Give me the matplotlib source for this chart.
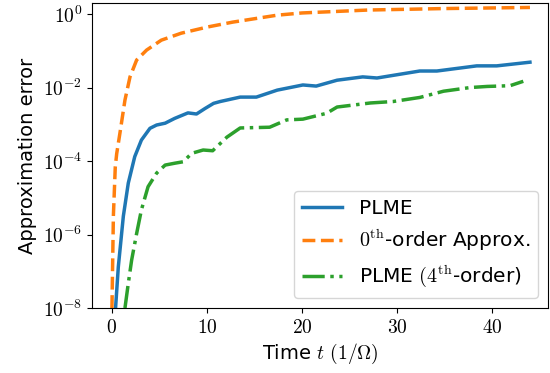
import numpy as np
from matplotlib import pyplot as plt

plt.rcParams['mathtext.fontset'] = 'cm'
plt.rcParams['font.size'] = 14

# values, stored as log10 of the error
t_zeroth = [0.0, 0.15, 0.35, 0.5, 0.84, 1.37, 1.9, 2.6, 3.65, 5.2, 7.3, 10.1, 12.7,
            17.4, 20.0, 27.0, 35.0, 44.0]
log_err_zeroth = [-8.0, -5.5, -4.16, -3.8, -3.24, -2.34, -1.71, -1.25, -0.98, -0.71,
                  -0.52, -0.35, -0.22, -0.03, 0.03, 0.11, 0.15, 0.18]

t_plme = [0.38, 0.67, 1.2, 1.72, 2.4, 3.1, 4.0, 4.7, 5.6, 6.6, 8.0, 8.9, 9.8, 10.7,
          11.4, 13.5, 15.2, 17.4, 20.1, 21.5, 23.7, 26.4, 27.9, 32.4, 34.2, 38.4,
          40.5, 44.0]
log_err_plme = [-8.0, -6.88, -5.5, -4.6, -3.88, -3.43, -3.11, -3.02, -2.97, -2.84,
                -2.69, -2.72, -2.57, -2.43, -2.38, -2.26, -2.26, -2.07, -1.93, -1.96,
                -1.8, -1.71, -1.74, -1.55, -1.55, -1.41, -1.41, -1.31]

t_fourth = [1.37, 1.72, 2.07, 2.6, 3.1, 3.8, 4.7, 5.6, 6.6, 7.5, 8.4, 9.6, 10.6, 12.1,
            13.5, 16.6, 18.4, 20.1, 22.6, 23.7, 27.2, 29.6, 32.4, 34.9, 37.7, 39.5,
            41.9, 43.3]
log_err_fourth = [-8.0, -7.33, -6.7, -5.97, -5.33, -4.7, -4.33, -4.11, -4.06, -4.02,
                  -3.79, -3.7, -3.72, -3.35, -3.1, -3.08, -2.88, -2.86, -2.7, -2.53,
                  -2.42, -2.38, -2.27, -2.1, -2.0, -1.97, -1.95, -1.83]

y_ticks = [-8, -6, -4, -2, 0]
x_ticks = [0, 10, 20, 30, 40]

fig = plt.figure(figsize=(5.5, 3.73), dpi=100)
ax = fig.add_axes([92 / 550, 65 / 373, 456 / 550, 305 / 373])

ax.semilogy(t_plme, 10.0 ** np.array(log_err_plme), color='tab:blue', lw=2.5,
            label='PLME')
ax.semilogy(t_zeroth, 10.0 ** np.array(log_err_zeroth), color='tab:orange', lw=2.5,
            ls='--', label=r'$0^{\mathrm{th}}$-order Approx.')
ax.semilogy(t_fourth, 10.0 ** np.array(log_err_fourth), color='tab:green', lw=2.5,
            ls='-.', label=r'PLME $(4^{\mathrm{th}}$-order)')

ax.set_xlim(-2.1, 45.9)
ax.set_ylim(1e-8, 2)
ax.set_yticks([10.0 ** k for k in y_ticks])
ax.set_yticklabels([r'$10^{%d}$' % k for k in y_ticks])
ax.minorticks_off()
ax.set_xticks(x_ticks)
ax.set_xticklabels([r'$%d$' % k for k in x_ticks])
ax.set_xlabel(r'Time $t$ $(1/\Omega)$')
ax.set_ylabel('Approximation error')
ax.legend(loc='lower right', fontsize=14.5)

fig.savefig('out.png', dpi=100)
